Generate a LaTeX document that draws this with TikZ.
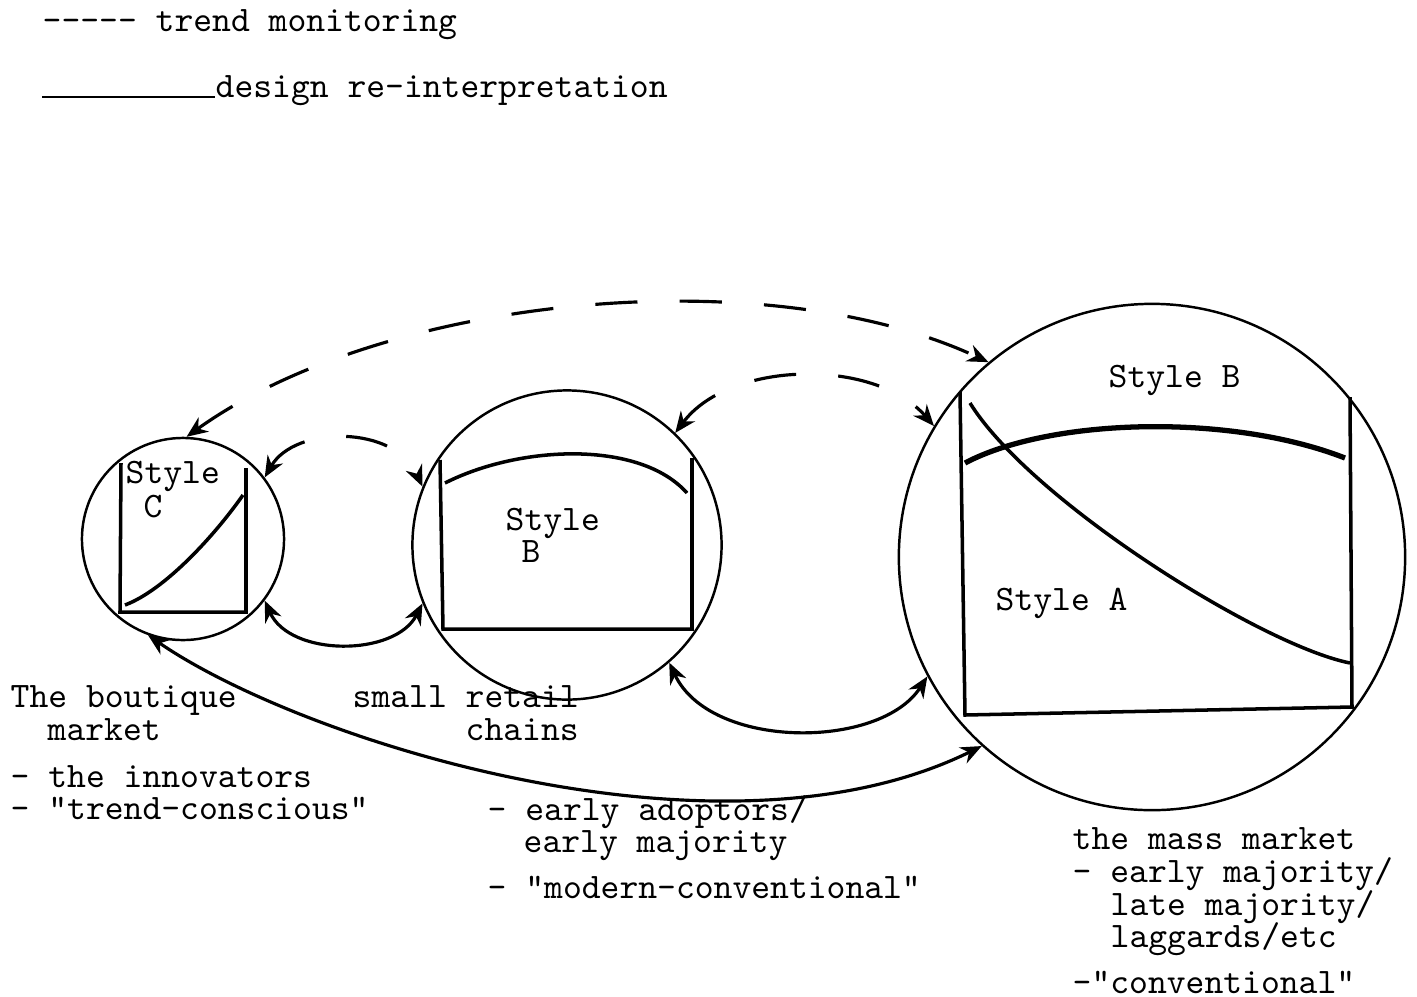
\documentclass[tikz,border=0pt]{standalone}
\usepackage{fontspec}
\setmonofont{Latin Modern Mono}
\usetikzlibrary{arrows.meta}
\begin{document}
\begin{tikzpicture}[x=0.01cm,y=-0.01cm,
  >={Stealth[length=6pt,width=5pt]},
  lbl/.style={anchor=base west, inner sep=0pt, font=\ttfamily\fontsize{10.2}{11}\selectfont},
  mkt/.style={circle, draw, line width=0.7pt, inner sep=0pt},
  frame/.style={line width=1pt, line join=miter},
  trendcurve/.style={line width=1pt},
  trend/.style={<->, line width=0.9pt, dash pattern=on 12pt off 12pt},
  design/.style={<->, line width=0.9pt}]
\useasboundingbox (0,0) rectangle (1417,996);

% legend
\node[lbl] (lg1) at (42,31) {----- trend monitoring};
\node[lbl] (lg2) at (215,97) {design re-interpretation};
\draw[line width=0.8pt] (42,97) -- (lg2.base west);

% market circles
\node[mkt, minimum size=2.02cm] (cC) at (183,539) {};
\node[mkt, minimum size=3.09cm] (cB) at (567,545) {};
\node[mkt, minimum size=5.06cm] (cA) at (1152,557) {};

% boutique box
\draw[frame] (121,463) -- (120,612) -- (246,612) -- (246,468);
\draw[trendcurve] (125,605) .. controls (165,590) and (215,535) .. (243,495);
\node[lbl] (sC1) at (125,483) {Style};
\node[lbl] (sC2) at (143,517) {C};

% retail box
\draw[frame] (440,460) -- (443,629) -- (692,629) -- (692,458);
\draw[trendcurve] (445,483) .. controls (520,445) and (640,440) .. (687,493);
\node[lbl] (sB1) at (505,530) {Style};
\node[lbl] (sB2) at (521,562) {B};

% mass market box
\draw[frame] (960,392) -- (965,715) -- (1352,707) -- (1350,397);
\draw[line width=1.5pt] (965,463) .. controls (1050,418) and (1230,413) .. (1345,458);
\draw[trendcurve] (970,403) .. controls (1030,500) and (1260,645) .. (1350,663);
\node[lbl] (sAB) at (1108,387) {Style B};
\node[lbl] (sAA) at (995,610) {Style A};

% trend monitoring (dashed)
\draw[trend] (cC.88) .. controls (383,296) and (764,258) .. (cA.130);
\draw[trend] (cC.37) .. controls (295,425) and (395,425) .. (cB.158);
\draw[trend] (cB.46) .. controls (730,360) and (875,358) .. (cA.149);

% design re-interpretation (solid)
\draw[design] (cC.-37) .. controls (290,657) and (395,657) .. (cB.-158);
\draw[design] (cB.-49) .. controls (710,750) and (880,750) .. (cA.-152);
\draw[design] (cC.-110) .. controls (300,740) and (720,875) .. (cA.-132);

% market labels
\node[lbl] (m1a) at (10,707) {The boutique};
\node[lbl] (m1b) at (47,740) {market};
\node[lbl] (m1c) at (10,787) {- the innovators};
\node[lbl] (m1d) at (10,819) {- "trend-conscious"};

\node[lbl] (m2a) at (352,707) {small retail};
\node[lbl] (m2b) at (465,740) {chains};
\node[lbl] (m2c) at (487,820) {- early adoptors/};
\node[lbl] (m2d) at (523,852) {early majority};
\node[lbl] (m2e) at (487,898) {- "modern-conventional"};

\node[lbl] (m3a) at (1072,849) {the mass market};
\node[lbl] (m3b) at (1072,882) {- early majority/};
\node[lbl] (m3c) at (1110,915) {late majority/};
\node[lbl] (m3d) at (1110,947) {laggards/etc};
\node[lbl] (m3e) at (1072,993) {-"conventional"};
\end{tikzpicture}
\end{document}
